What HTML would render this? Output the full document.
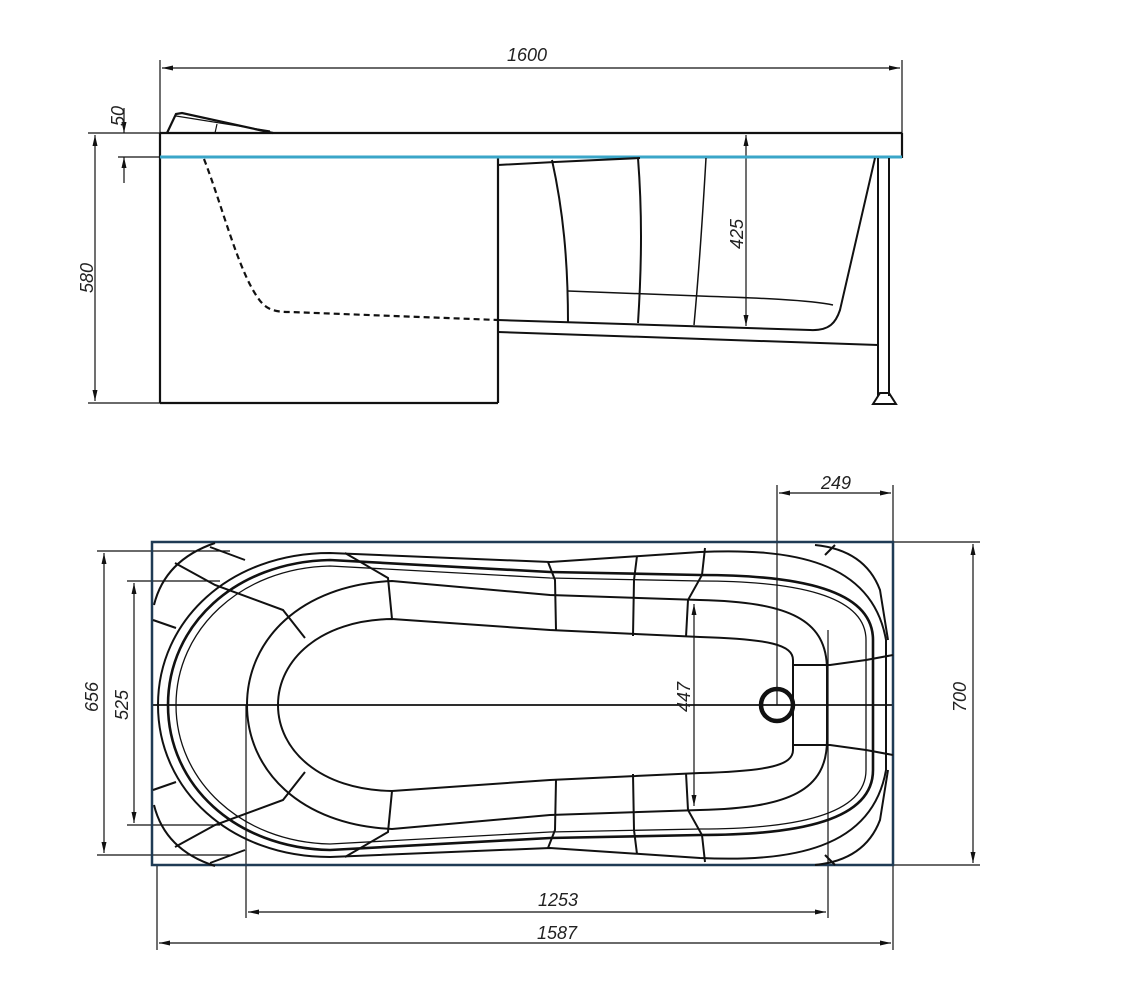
<!DOCTYPE html>
<html><head><meta charset="utf-8"><style>
html,body{margin:0;padding:0;background:#fff;}
svg{display:block}
text{font-family:"Liberation Sans",sans-serif;font-style:italic;font-size:18px;fill:#222;}
</style></head><body>
<svg width="1125" height="990" viewBox="0 0 1125 990" xmlns="http://www.w3.org/2000/svg">
<defs>
<marker id="a" markerWidth="12" markerHeight="8" refX="11" refY="4" orient="auto-start-reverse" markerUnits="userSpaceOnUse">
<path d="M0,1.5 L11,4 L0,6.5 Z" fill="#111"/></marker>
</defs>
<g fill="none" stroke="#111">
<!-- ===== TOP (side) VIEW ===== -->
<g stroke-width="1.2">
<line x1="160" y1="60" x2="160" y2="135"/>
<line x1="902" y1="60" x2="902" y2="135"/>
<line x1="162" y1="68" x2="900" y2="68" marker-start="url(#a)" marker-end="url(#a)"/>
<line x1="88" y1="133" x2="160" y2="133"/>
<line x1="88" y1="403" x2="160" y2="403"/>
<line x1="95" y1="135" x2="95" y2="401" marker-start="url(#a)" marker-end="url(#a)"/>
<line x1="118" y1="157" x2="160" y2="157"/>
<line x1="124" y1="108" x2="124" y2="133" marker-end="url(#a)"/>
<line x1="124" y1="183" x2="124" y2="157" marker-end="url(#a)"/>
<line x1="746" y1="135" x2="746" y2="326" marker-start="url(#a)" marker-end="url(#a)"/>
</g>
<g stroke-width="2.2">
<line x1="160" y1="133" x2="902" y2="133"/>
<line x1="160" y1="133" x2="160" y2="403"/>
<line x1="902" y1="133" x2="902" y2="158"/>
<line x1="160" y1="403" x2="498" y2="403"/>
<line x1="498" y1="157" x2="498" y2="403"/>
<path d="M167,133 L176,114 L182,113 L273,133"/>
<path d="M176,116 L270,131" stroke-width="1.2"/>
<line x1="217" y1="124" x2="215" y2="133" stroke-width="1.2"/>
</g>
<line x1="160" y1="157" x2="902" y2="157" stroke="#3aa6c8" stroke-width="3"/>
<path d="M204,159 C222,205 238,270 258,298 C266,310 275,312 290,312 L498,320" stroke-width="2.2" stroke-dasharray="6,4"/>
<g stroke-width="2">
<path d="M498,165 L555,162 L640,158"/>
<path d="M498,320 L810,330 C830,331 836,322 840,310 L875,158"/>
<path d="M498,332 L878,345"/>
<path d="M552,160 C563,210 568,260 568,323"/>
<path d="M638,158 C642,210 642,260 638,323"/>
<path d="M706,158 C703,210 700,260 694,325" stroke-width="1.5"/>
<path d="M568,291 L700,296 C760,298 810,300 833,305" stroke-width="1.5"/>
<line x1="878" y1="158" x2="878" y2="396"/>
<line x1="889" y1="158" x2="889" y2="396"/>
<path d="M873,404 L880,393 L889,393 L896,404 Z"/>
</g>
<!-- ===== BOTTOM (plan) VIEW ===== -->
<g stroke-width="1.2">
<line x1="777" y1="485" x2="777" y2="705"/>
<line x1="893" y1="485" x2="893" y2="542"/>
<line x1="779" y1="493" x2="891" y2="493" marker-start="url(#a)" marker-end="url(#a)"/>
<line x1="893" y1="542" x2="980" y2="542"/>
<line x1="893" y1="865" x2="980" y2="865"/>
<line x1="973" y1="544" x2="973" y2="863" marker-start="url(#a)" marker-end="url(#a)"/>
<line x1="97" y1="551" x2="230" y2="551"/>
<line x1="97" y1="855" x2="230" y2="855"/>
<line x1="104" y1="553" x2="104" y2="853" marker-start="url(#a)" marker-end="url(#a)"/>
<line x1="127" y1="581" x2="220" y2="581"/>
<line x1="127" y1="825" x2="220" y2="825"/>
<line x1="134" y1="583" x2="134" y2="823" marker-start="url(#a)" marker-end="url(#a)"/>
<line x1="246" y1="705" x2="246" y2="918"/>
<line x1="828" y1="630" x2="828" y2="918"/>
<line x1="248" y1="912" x2="826" y2="912" marker-start="url(#a)" marker-end="url(#a)"/>
<line x1="157" y1="865" x2="157" y2="950"/>
<line x1="893" y1="865" x2="893" y2="950"/>
<line x1="159" y1="943" x2="891" y2="943" marker-start="url(#a)" marker-end="url(#a)"/>
<line x1="694" y1="604" x2="694" y2="806" marker-start="url(#a)" marker-end="url(#a)"/>
<line x1="152" y1="705" x2="893" y2="705" stroke-width="1.8"/>
</g>
<rect x="152" y="542" width="741" height="323" stroke="#1f3b55" stroke-width="2.5"/>
<g stroke-width="2">
<!-- outer rim -->
<path d="M330,553 C230,553 158,620 158,705 C158,790 230,857 330,857 L550,848 L700,858 C790,862 872,850 886,770 L886,640 C872,560 790,548 700,552 L550,562 Z"/>
<!-- second ring (double) -->
<path d="M330,560 C235,562 168,625 168,705 C168,785 235,848 330,850 L550,838 L700,835 C800,835 873,820 873,770 L873,640 C873,590 800,575 700,575 L550,572 Z" stroke-width="2.6"/>
<path d="M330,566 C240,568 176,630 176,705 C176,780 240,842 330,844 L550,832 L700,829 C795,829 866,815 866,770 L866,640 C866,595 795,581 700,581 L550,578 Z" stroke-width="1.3"/>
<!-- third ring -->
<path d="M392,581 C300,585 247,640 247,705 C247,770 300,825 392,829 L550,815 L700,810 C790,808 827,790 827,740 L827,670 C827,620 790,602 700,600 L550,595 Z"/>
<!-- floor -->
<path d="M392,619 C320,620 278,660 278,705 C278,750 320,790 392,791 L550,780 L700,773 C770,771 793,765 793,750 L793,660 C793,645 770,639 700,637 L550,630 Z"/>
<!-- drain -->
<circle cx="777" cy="705" r="16" stroke-width="4.5"/>
<!-- corner arcs -->
<path d="M215,543 Q165,560 154,605"/>
<path d="M154,805 Q165,850 215,866"/>
<path d="M815,545 Q865,550 880,590 L888,640"/>
<path d="M815,865 Q865,860 880,820 L888,770"/>
<!-- radial segments left -->
<path d="M175,563 L215,585 L283,610 L305,638"/>
<path d="M175,847 L215,825 L283,800 L305,772"/>
<line x1="153" y1="620" x2="176" y2="628"/>
<line x1="153" y1="790" x2="176" y2="782"/>
<path d="M345,553 L388,578 L392,619"/>
<path d="M345,857 L388,832 L392,791"/>
<line x1="245" y1="560" x2="210" y2="547"/>
<line x1="245" y1="850" x2="210" y2="863"/>
<!-- radial segments middle -->
<path d="M548,562 L555,580 L556,630"/>
<path d="M548,848 L555,830 L556,780"/>
<path d="M637,556 L634,580 L633,636"/>
<path d="M637,854 L634,830 L633,774"/>
<path d="M705,548 L702,575 L688,600 L686,637"/>
<path d="M705,862 L702,835 L688,810 L686,773"/>
<!-- right segments -->
<path d="M793,665 L830,665 L866,660 L893,655"/>
<path d="M793,745 L830,745 L866,750 L893,755"/>
<line x1="835" y1="545" x2="825" y2="555"/>
<line x1="835" y1="865" x2="825" y2="855"/>
</g>
</g>
<!-- labels -->
<text x="527" y="61" text-anchor="middle">1600</text>
<text x="0" y="0" text-anchor="middle" transform="translate(93,278) rotate(-90)">580</text>
<text x="0" y="0" text-anchor="middle" transform="translate(124,116) rotate(-90)">50</text>
<text x="0" y="0" text-anchor="middle" transform="translate(743,234) rotate(-90)">425</text>
<text x="836" y="489" text-anchor="middle">249</text>
<text x="0" y="0" text-anchor="middle" transform="translate(966,697) rotate(-90)">700</text>
<text x="0" y="0" text-anchor="middle" transform="translate(98,697) rotate(-90)">656</text>
<text x="0" y="0" text-anchor="middle" transform="translate(128,705) rotate(-90)">525</text>
<text x="0" y="0" text-anchor="middle" transform="translate(690,697) rotate(-90)">447</text>
<text x="558" y="906" text-anchor="middle">1253</text>
<text x="557" y="939" text-anchor="middle">1587</text>
</svg>
</body></html>
